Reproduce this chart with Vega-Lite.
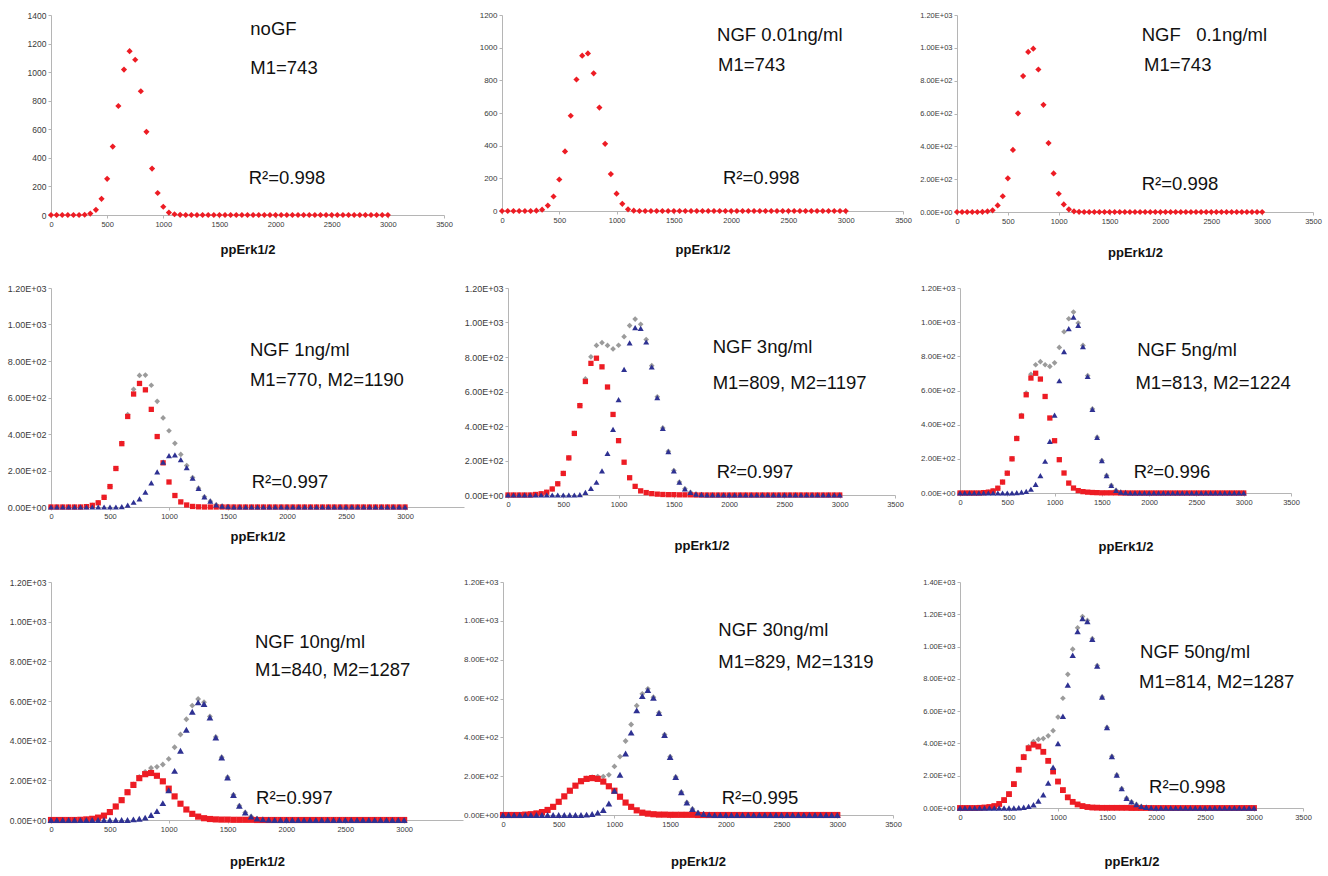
{
"$schema":"https://vega.github.io/schema/vega-lite/v6.json",
"background":"white",
"padding":{"left":5,"top":11,"right":5,"bottom":3},
"config":{"view":{"stroke":null},"concat":{"spacing":0},
"axis":{"grid":false,"labelOverlap":false,"domainColor":"#b5b5b5","tickColor":"#b5b5b5","tickSize":3,"labelPadding":2,"labelColor":"#3a3a3a","labelFont":"Liberation Sans","labelFontSize":7.5,"titleFont":"Liberation Sans","titleFontSize":13,"titleFontWeight":"bold","titleColor":"#111111","domainWidth":1,"tickWidth":1},
"axisX":{"labelFlush":false},
"text":{"font":"Liberation Sans","fontSize":18.5,"align":"left","baseline":"middle","color":"#111111"}},
"datasets":{
"noGF":[{"erk":0,"m1":0},{"erk":50,"m1":0},{"erk":100,"m1":0},{"erk":150,"m1":0},{"erk":200,"m1":0},{"erk":250,"m1":0},{"erk":300,"m1":2},{"erk":350,"m1":10},{"erk":400,"m1":36},{"erk":450,"m1":113},{"erk":500,"m1":253},{"erk":550,"m1":479},{"erk":600,"m1":763},{"erk":650,"m1":1018},{"erk":700,"m1":1147},{"erk":750,"m1":1087},{"erk":800,"m1":866},{"erk":850,"m1":582},{"erk":900,"m1":325},{"erk":950,"m1":154},{"erk":1000,"m1":58},{"erk":1050,"m1":17},{"erk":1100,"m1":5},{"erk":1150,"m1":1},{"erk":1200,"m1":0},{"erk":1250,"m1":0},{"erk":1300,"m1":0},{"erk":1350,"m1":0},{"erk":1400,"m1":0},{"erk":1450,"m1":0},{"erk":1500,"m1":0},{"erk":1550,"m1":0},{"erk":1600,"m1":0},{"erk":1650,"m1":0},{"erk":1700,"m1":0},{"erk":1750,"m1":0},{"erk":1800,"m1":0},{"erk":1850,"m1":0},{"erk":1900,"m1":0},{"erk":1950,"m1":0},{"erk":2000,"m1":0},{"erk":2050,"m1":0},{"erk":2100,"m1":0},{"erk":2150,"m1":0},{"erk":2200,"m1":0},{"erk":2250,"m1":0},{"erk":2300,"m1":0},{"erk":2350,"m1":0},{"erk":2400,"m1":0},{"erk":2450,"m1":0},{"erk":2500,"m1":0},{"erk":2550,"m1":0},{"erk":2600,"m1":0},{"erk":2650,"m1":0},{"erk":2700,"m1":0},{"erk":2750,"m1":0},{"erk":2800,"m1":0},{"erk":2850,"m1":0},{"erk":2900,"m1":0},{"erk":2950,"m1":0},{"erk":3000,"m1":0}],
"ngf001":[{"erk":0,"m1":0},{"erk":50,"m1":0},{"erk":100,"m1":0},{"erk":150,"m1":0},{"erk":200,"m1":0},{"erk":250,"m1":0},{"erk":300,"m1":2},{"erk":350,"m1":8},{"erk":400,"m1":33},{"erk":450,"m1":89},{"erk":500,"m1":193},{"erk":550,"m1":365},{"erk":600,"m1":583},{"erk":650,"m1":805},{"erk":700,"m1":951},{"erk":750,"m1":965},{"erk":800,"m1":843},{"erk":850,"m1":633},{"erk":900,"m1":411},{"erk":950,"m1":226},{"erk":1000,"m1":106},{"erk":1050,"m1":44},{"erk":1100,"m1":10},{"erk":1150,"m1":2},{"erk":1200,"m1":0},{"erk":1250,"m1":0},{"erk":1300,"m1":0},{"erk":1350,"m1":0},{"erk":1400,"m1":0},{"erk":1450,"m1":0},{"erk":1500,"m1":0},{"erk":1550,"m1":0},{"erk":1600,"m1":0},{"erk":1650,"m1":0},{"erk":1700,"m1":0},{"erk":1750,"m1":0},{"erk":1800,"m1":0},{"erk":1850,"m1":0},{"erk":1900,"m1":0},{"erk":1950,"m1":0},{"erk":2000,"m1":0},{"erk":2050,"m1":0},{"erk":2100,"m1":0},{"erk":2150,"m1":0},{"erk":2200,"m1":0},{"erk":2250,"m1":0},{"erk":2300,"m1":0},{"erk":2350,"m1":0},{"erk":2400,"m1":0},{"erk":2450,"m1":0},{"erk":2500,"m1":0},{"erk":2550,"m1":0},{"erk":2600,"m1":0},{"erk":2650,"m1":0},{"erk":2700,"m1":0},{"erk":2750,"m1":0},{"erk":2800,"m1":0},{"erk":2850,"m1":0},{"erk":2900,"m1":0},{"erk":2950,"m1":0},{"erk":3000,"m1":0}],
"ngf01":[{"erk":0,"m1":0},{"erk":50,"m1":0},{"erk":100,"m1":0},{"erk":150,"m1":0},{"erk":200,"m1":0},{"erk":250,"m1":1},{"erk":300,"m1":4},{"erk":350,"m1":10},{"erk":400,"m1":40},{"erk":450,"m1":96},{"erk":500,"m1":205},{"erk":550,"m1":378},{"erk":600,"m1":601},{"erk":650,"m1":828},{"erk":700,"m1":975},{"erk":750,"m1":995},{"erk":800,"m1":868},{"erk":850,"m1":653},{"erk":900,"m1":420},{"erk":950,"m1":235},{"erk":1000,"m1":111},{"erk":1050,"m1":46},{"erk":1100,"m1":16},{"erk":1150,"m1":4},{"erk":1200,"m1":1},{"erk":1250,"m1":0},{"erk":1300,"m1":0},{"erk":1350,"m1":0},{"erk":1400,"m1":0},{"erk":1450,"m1":0},{"erk":1500,"m1":0},{"erk":1550,"m1":0},{"erk":1600,"m1":0},{"erk":1650,"m1":0},{"erk":1700,"m1":0},{"erk":1750,"m1":0},{"erk":1800,"m1":0},{"erk":1850,"m1":0},{"erk":1900,"m1":0},{"erk":1950,"m1":0},{"erk":2000,"m1":0},{"erk":2050,"m1":0},{"erk":2100,"m1":0},{"erk":2150,"m1":0},{"erk":2200,"m1":0},{"erk":2250,"m1":0},{"erk":2300,"m1":0},{"erk":2350,"m1":0},{"erk":2400,"m1":0},{"erk":2450,"m1":0},{"erk":2500,"m1":0},{"erk":2550,"m1":0},{"erk":2600,"m1":0},{"erk":2650,"m1":0},{"erk":2700,"m1":0},{"erk":2750,"m1":0},{"erk":2800,"m1":0},{"erk":2850,"m1":0},{"erk":2900,"m1":0},{"erk":2950,"m1":0},{"erk":3000,"m1":0}],
"ngf1":[{"erk":0,"all":0,"m1":0,"m2":0},{"erk":50,"all":0,"m1":0,"m2":0},{"erk":100,"all":0,"m1":0,"m2":0},{"erk":150,"all":0,"m1":0,"m2":0},{"erk":200,"all":0,"m1":0,"m2":0},{"erk":250,"all":0,"m1":0,"m2":0},{"erk":300,"all":2,"m1":2,"m2":0},{"erk":350,"all":9,"m1":9,"m2":0},{"erk":400,"all":23,"m1":23,"m2":0},{"erk":450,"all":53,"m1":53,"m2":0},{"erk":500,"all":112,"m1":112,"m2":0},{"erk":550,"all":211,"m1":211,"m2":0},{"erk":600,"all":349,"m1":347,"m2":2},{"erk":650,"all":506,"m1":496,"m2":10},{"erk":700,"all":645,"m1":619,"m2":26},{"erk":750,"all":721,"m1":677,"m2":44},{"erk":800,"all":723,"m1":642,"m2":81},{"erk":850,"all":667,"m1":535,"m2":132},{"erk":900,"all":579,"m1":386,"m2":193},{"erk":950,"all":488,"m1":242,"m2":246},{"erk":1000,"all":418,"m1":137,"m2":281},{"erk":1050,"all":349,"m1":63,"m2":286},{"erk":1100,"all":288,"m1":28,"m2":260},{"erk":1150,"all":227,"m1":11,"m2":216},{"erk":1200,"all":161,"m1":3,"m2":158},{"erk":1250,"all":103,"m1":1,"m2":102},{"erk":1300,"all":56,"m1":0,"m2":56},{"erk":1350,"all":32,"m1":0,"m2":32},{"erk":1400,"all":12,"m1":0,"m2":12},{"erk":1450,"all":5,"m1":0,"m2":5},{"erk":1500,"all":2,"m1":0,"m2":2},{"erk":1550,"all":0,"m1":0,"m2":0},{"erk":1600,"all":0,"m1":0,"m2":0},{"erk":1650,"all":0,"m1":0,"m2":0},{"erk":1700,"all":0,"m1":0,"m2":0},{"erk":1750,"all":0,"m1":0,"m2":0},{"erk":1800,"all":0,"m1":0,"m2":0},{"erk":1850,"all":0,"m1":0,"m2":0},{"erk":1900,"all":0,"m1":0,"m2":0},{"erk":1950,"all":0,"m1":0,"m2":0},{"erk":2000,"all":0,"m1":0,"m2":0},{"erk":2050,"all":0,"m1":0,"m2":0},{"erk":2100,"all":0,"m1":0,"m2":0},{"erk":2150,"all":0,"m1":0,"m2":0},{"erk":2200,"all":0,"m1":0,"m2":0},{"erk":2250,"all":0,"m1":0,"m2":0},{"erk":2300,"all":0,"m1":0,"m2":0},{"erk":2350,"all":0,"m1":0,"m2":0},{"erk":2400,"all":0,"m1":0,"m2":0},{"erk":2450,"all":0,"m1":0,"m2":0},{"erk":2500,"all":0,"m1":0,"m2":0},{"erk":2550,"all":0,"m1":0,"m2":0},{"erk":2600,"all":0,"m1":0,"m2":0},{"erk":2650,"all":0,"m1":0,"m2":0},{"erk":2700,"all":0,"m1":0,"m2":0},{"erk":2750,"all":0,"m1":0,"m2":0},{"erk":2800,"all":0,"m1":0,"m2":0},{"erk":2850,"all":0,"m1":0,"m2":0},{"erk":2900,"all":0,"m1":0,"m2":0},{"erk":2950,"all":0,"m1":0,"m2":0},{"erk":3000,"all":0,"m1":0,"m2":0}],
"ngf3":[{"erk":0,"all":0,"m1":0,"m2":0},{"erk":50,"all":0,"m1":0,"m2":0},{"erk":100,"all":0,"m1":0,"m2":0},{"erk":150,"all":0,"m1":0,"m2":0},{"erk":200,"all":0,"m1":0,"m2":0},{"erk":250,"all":3,"m1":3,"m2":0},{"erk":300,"all":7,"m1":7,"m2":0},{"erk":350,"all":16,"m1":16,"m2":0},{"erk":400,"all":35,"m1":35,"m2":0},{"erk":450,"all":65,"m1":65,"m2":0},{"erk":500,"all":125,"m1":125,"m2":0},{"erk":550,"all":215,"m1":215,"m2":0},{"erk":600,"all":357,"m1":357,"m2":0},{"erk":650,"all":520,"m1":518,"m2":2},{"erk":700,"all":673,"m1":658,"m2":15},{"erk":750,"all":801,"m1":763,"m2":38},{"erk":800,"all":867,"m1":793,"m2":74},{"erk":850,"all":883,"m1":743,"m2":140},{"erk":900,"all":867,"m1":626,"m2":241},{"erk":950,"all":847,"m1":467,"m2":380},{"erk":1000,"all":868,"m1":315,"m2":553},{"erk":1050,"all":918,"m1":190,"m2":728},{"erk":1100,"all":982,"m1":100,"m2":882},{"erk":1150,"all":1020,"m1":50,"m2":970},{"erk":1200,"all":990,"m1":24,"m2":966},{"erk":1250,"all":901,"m1":14,"m2":887},{"erk":1300,"all":750,"m1":8,"m2":742},{"erk":1350,"all":569,"m1":5,"m2":564},{"erk":1400,"all":389,"m1":3,"m2":386},{"erk":1450,"all":253,"m1":2,"m2":251},{"erk":1500,"all":142,"m1":2,"m2":140},{"erk":1550,"all":75,"m1":1,"m2":74},{"erk":1600,"all":36,"m1":1,"m2":35},{"erk":1650,"all":16,"m1":1,"m2":15},{"erk":1700,"all":5,"m1":0,"m2":5},{"erk":1750,"all":2,"m1":0,"m2":2},{"erk":1800,"all":0,"m1":0,"m2":0},{"erk":1850,"all":0,"m1":0,"m2":0},{"erk":1900,"all":0,"m1":0,"m2":0},{"erk":1950,"all":0,"m1":0,"m2":0},{"erk":2000,"all":0,"m1":0,"m2":0},{"erk":2050,"all":0,"m1":0,"m2":0},{"erk":2100,"all":0,"m1":0,"m2":0},{"erk":2150,"all":0,"m1":0,"m2":0},{"erk":2200,"all":0,"m1":0,"m2":0},{"erk":2250,"all":0,"m1":0,"m2":0},{"erk":2300,"all":0,"m1":0,"m2":0},{"erk":2350,"all":0,"m1":0,"m2":0},{"erk":2400,"all":0,"m1":0,"m2":0},{"erk":2450,"all":0,"m1":0,"m2":0},{"erk":2500,"all":0,"m1":0,"m2":0},{"erk":2550,"all":0,"m1":0,"m2":0},{"erk":2600,"all":0,"m1":0,"m2":0},{"erk":2650,"all":0,"m1":0,"m2":0},{"erk":2700,"all":0,"m1":0,"m2":0},{"erk":2750,"all":0,"m1":0,"m2":0},{"erk":2800,"all":0,"m1":0,"m2":0},{"erk":2850,"all":0,"m1":0,"m2":0},{"erk":2900,"all":0,"m1":0,"m2":0},{"erk":2950,"all":0,"m1":0,"m2":0},{"erk":3000,"all":0,"m1":0,"m2":0}],
"ngf5":[{"erk":0,"all":0,"m1":0,"m2":0},{"erk":50,"all":0,"m1":0,"m2":0},{"erk":100,"all":0,"m1":0,"m2":0},{"erk":150,"all":0,"m1":0,"m2":0},{"erk":200,"all":0,"m1":0,"m2":0},{"erk":250,"all":2,"m1":2,"m2":0},{"erk":300,"all":5,"m1":5,"m2":0},{"erk":350,"all":12,"m1":12,"m2":0},{"erk":400,"all":28,"m1":28,"m2":0},{"erk":450,"all":64,"m1":64,"m2":0},{"erk":500,"all":116,"m1":116,"m2":0},{"erk":550,"all":200,"m1":200,"m2":0},{"erk":600,"all":321,"m1":319,"m2":2},{"erk":650,"all":455,"m1":450,"m2":5},{"erk":700,"all":585,"m1":575,"m2":10},{"erk":750,"all":695,"m1":673,"m2":22},{"erk":800,"all":751,"m1":701,"m2":50},{"erk":850,"all":769,"m1":667,"m2":102},{"erk":900,"all":751,"m1":565,"m2":186},{"erk":950,"all":741,"m1":439,"m2":302},{"erk":1000,"all":762,"m1":306,"m2":456},{"erk":1050,"all":852,"m1":195,"m2":657},{"erk":1100,"all":944,"m1":117,"m2":827},{"erk":1150,"all":1020,"m1":58,"m2":962},{"erk":1200,"all":1059,"m1":29,"m2":1030},{"erk":1250,"all":995,"m1":14,"m2":981},{"erk":1300,"all":864,"m1":8,"m2":856},{"erk":1350,"all":687,"m1":5,"m2":682},{"erk":1400,"all":492,"m1":3,"m2":489},{"erk":1450,"all":327,"m1":2,"m2":325},{"erk":1500,"all":190,"m1":1,"m2":189},{"erk":1550,"all":103,"m1":1,"m2":102},{"erk":1600,"all":45,"m1":1,"m2":44},{"erk":1650,"all":16,"m1":1,"m2":15},{"erk":1700,"all":5,"m1":0,"m2":5},{"erk":1750,"all":2,"m1":0,"m2":2},{"erk":1800,"all":0,"m1":0,"m2":0},{"erk":1850,"all":0,"m1":0,"m2":0},{"erk":1900,"all":0,"m1":0,"m2":0},{"erk":1950,"all":0,"m1":0,"m2":0},{"erk":2000,"all":0,"m1":0,"m2":0},{"erk":2050,"all":0,"m1":0,"m2":0},{"erk":2100,"all":0,"m1":0,"m2":0},{"erk":2150,"all":0,"m1":0,"m2":0},{"erk":2200,"all":0,"m1":0,"m2":0},{"erk":2250,"all":0,"m1":0,"m2":0},{"erk":2300,"all":0,"m1":0,"m2":0},{"erk":2350,"all":0,"m1":0,"m2":0},{"erk":2400,"all":0,"m1":0,"m2":0},{"erk":2450,"all":0,"m1":0,"m2":0},{"erk":2500,"all":0,"m1":0,"m2":0},{"erk":2550,"all":0,"m1":0,"m2":0},{"erk":2600,"all":0,"m1":0,"m2":0},{"erk":2650,"all":0,"m1":0,"m2":0},{"erk":2700,"all":0,"m1":0,"m2":0},{"erk":2750,"all":0,"m1":0,"m2":0},{"erk":2800,"all":0,"m1":0,"m2":0},{"erk":2850,"all":0,"m1":0,"m2":0},{"erk":2900,"all":0,"m1":0,"m2":0},{"erk":2950,"all":0,"m1":0,"m2":0},{"erk":3000,"all":0,"m1":0,"m2":0}],
"ngf10":[{"erk":0,"all":0,"m1":0,"m2":0},{"erk":50,"all":0,"m1":0,"m2":0},{"erk":100,"all":0,"m1":0,"m2":0},{"erk":150,"all":0,"m1":0,"m2":0},{"erk":200,"all":0,"m1":0,"m2":0},{"erk":250,"all":1,"m1":1,"m2":0},{"erk":300,"all":3,"m1":3,"m2":0},{"erk":350,"all":6,"m1":6,"m2":0},{"erk":400,"all":12,"m1":12,"m2":0},{"erk":450,"all":22,"m1":22,"m2":0},{"erk":500,"all":40,"m1":40,"m2":0},{"erk":550,"all":68,"m1":68,"m2":0},{"erk":600,"all":100,"m1":100,"m2":0},{"erk":650,"all":140,"m1":140,"m2":0},{"erk":700,"all":180,"m1":177,"m2":3},{"erk":750,"all":217,"m1":211,"m2":6},{"erk":800,"all":243,"m1":231,"m2":12},{"erk":850,"all":262,"m1":237,"m2":25},{"erk":900,"all":268,"m1":223,"m2":45},{"erk":950,"all":280,"m1":195,"m2":85},{"erk":1000,"all":308,"m1":158,"m2":150},{"erk":1050,"all":367,"m1":119,"m2":248},{"erk":1100,"all":431,"m1":82,"m2":349},{"erk":1150,"all":508,"m1":53,"m2":455},{"erk":1200,"all":577,"m1":31,"m2":546},{"erk":1250,"all":610,"m1":17,"m2":593},{"erk":1300,"all":594,"m1":9,"m2":585},{"erk":1350,"all":522,"m1":5,"m2":517},{"erk":1400,"all":419,"m1":3,"m2":416},{"erk":1450,"all":317,"m1":2,"m2":315},{"erk":1500,"all":216,"m1":2,"m2":214},{"erk":1550,"all":127,"m1":1,"m2":126},{"erk":1600,"all":72,"m1":1,"m2":71},{"erk":1650,"all":38,"m1":1,"m2":37},{"erk":1700,"all":18,"m1":1,"m2":17},{"erk":1750,"all":7,"m1":0,"m2":7},{"erk":1800,"all":3,"m1":0,"m2":3},{"erk":1850,"all":1,"m1":0,"m2":1},{"erk":1900,"all":0,"m1":0,"m2":0},{"erk":1950,"all":0,"m1":0,"m2":0},{"erk":2000,"all":0,"m1":0,"m2":0},{"erk":2050,"all":0,"m1":0,"m2":0},{"erk":2100,"all":0,"m1":0,"m2":0},{"erk":2150,"all":0,"m1":0,"m2":0},{"erk":2200,"all":0,"m1":0,"m2":0},{"erk":2250,"all":0,"m1":0,"m2":0},{"erk":2300,"all":0,"m1":0,"m2":0},{"erk":2350,"all":0,"m1":0,"m2":0},{"erk":2400,"all":0,"m1":0,"m2":0},{"erk":2450,"all":0,"m1":0,"m2":0},{"erk":2500,"all":0,"m1":0,"m2":0},{"erk":2550,"all":0,"m1":0,"m2":0},{"erk":2600,"all":0,"m1":0,"m2":0},{"erk":2650,"all":0,"m1":0,"m2":0},{"erk":2700,"all":0,"m1":0,"m2":0},{"erk":2750,"all":0,"m1":0,"m2":0},{"erk":2800,"all":0,"m1":0,"m2":0},{"erk":2850,"all":0,"m1":0,"m2":0},{"erk":2900,"all":0,"m1":0,"m2":0},{"erk":2950,"all":0,"m1":0,"m2":0},{"erk":3000,"all":0,"m1":0,"m2":0}],
"ngf30":[{"erk":0,"all":0,"m1":0,"m2":0},{"erk":50,"all":0,"m1":0,"m2":0},{"erk":100,"all":0,"m1":0,"m2":0},{"erk":150,"all":0,"m1":0,"m2":0},{"erk":200,"all":2,"m1":2,"m2":0},{"erk":250,"all":4,"m1":4,"m2":0},{"erk":300,"all":8,"m1":8,"m2":0},{"erk":350,"all":15,"m1":15,"m2":0},{"erk":400,"all":26,"m1":26,"m2":0},{"erk":450,"all":42,"m1":42,"m2":0},{"erk":500,"all":68,"m1":68,"m2":0},{"erk":550,"all":96,"m1":96,"m2":0},{"erk":600,"all":125,"m1":125,"m2":0},{"erk":650,"all":151,"m1":151,"m2":0},{"erk":700,"all":174,"m1":174,"m2":0},{"erk":750,"all":188,"m1":186,"m2":2},{"erk":800,"all":195,"m1":190,"m2":5},{"erk":850,"all":198,"m1":186,"m2":12},{"erk":900,"all":198,"m1":172,"m2":26},{"erk":950,"all":207,"m1":148,"m2":59},{"erk":1000,"all":250,"m1":125,"m2":125},{"erk":1050,"all":301,"m1":94,"m2":207},{"erk":1100,"all":381,"m1":64,"m2":317},{"erk":1150,"all":466,"m1":42,"m2":424},{"erk":1200,"all":563,"m1":24,"m2":539},{"erk":1250,"all":624,"m1":12,"m2":612},{"erk":1300,"all":650,"m1":7,"m2":643},{"erk":1350,"all":607,"m1":4,"m2":603},{"erk":1400,"all":527,"m1":2,"m2":525},{"erk":1450,"all":414,"m1":2,"m2":412},{"erk":1500,"all":300,"m1":1,"m2":299},{"erk":1550,"all":196,"m1":1,"m2":195},{"erk":1600,"all":118,"m1":1,"m2":117},{"erk":1650,"all":65,"m1":1,"m2":64},{"erk":1700,"all":31,"m1":1,"m2":30},{"erk":1750,"all":12,"m1":0,"m2":12},{"erk":1800,"all":5,"m1":0,"m2":5},{"erk":1850,"all":2,"m1":0,"m2":2},{"erk":1900,"all":0,"m1":0,"m2":0},{"erk":1950,"all":0,"m1":0,"m2":0},{"erk":2000,"all":0,"m1":0,"m2":0},{"erk":2050,"all":0,"m1":0,"m2":0},{"erk":2100,"all":0,"m1":0,"m2":0},{"erk":2150,"all":0,"m1":0,"m2":0},{"erk":2200,"all":0,"m1":0,"m2":0},{"erk":2250,"all":0,"m1":0,"m2":0},{"erk":2300,"all":0,"m1":0,"m2":0},{"erk":2350,"all":0,"m1":0,"m2":0},{"erk":2400,"all":0,"m1":0,"m2":0},{"erk":2450,"all":0,"m1":0,"m2":0},{"erk":2500,"all":0,"m1":0,"m2":0},{"erk":2550,"all":0,"m1":0,"m2":0},{"erk":2600,"all":0,"m1":0,"m2":0},{"erk":2650,"all":0,"m1":0,"m2":0},{"erk":2700,"all":0,"m1":0,"m2":0},{"erk":2750,"all":0,"m1":0,"m2":0},{"erk":2800,"all":0,"m1":0,"m2":0},{"erk":2850,"all":0,"m1":0,"m2":0},{"erk":2900,"all":0,"m1":0,"m2":0},{"erk":2950,"all":0,"m1":0,"m2":0},{"erk":3000,"all":0,"m1":0,"m2":0}],
"ngf50":[{"erk":0,"all":0,"m1":0,"m2":0},{"erk":50,"all":0,"m1":0,"m2":0},{"erk":100,"all":0,"m1":0,"m2":0},{"erk":150,"all":0,"m1":0,"m2":0},{"erk":200,"all":1,"m1":1,"m2":0},{"erk":250,"all":3,"m1":3,"m2":0},{"erk":300,"all":6,"m1":6,"m2":0},{"erk":350,"all":12,"m1":12,"m2":0},{"erk":400,"all":25,"m1":25,"m2":0},{"erk":450,"all":49,"m1":49,"m2":0},{"erk":500,"all":86,"m1":86,"m2":0},{"erk":550,"all":148,"m1":148,"m2":0},{"erk":600,"all":239,"m1":237,"m2":2},{"erk":650,"all":320,"m1":315,"m2":5},{"erk":700,"all":380,"m1":370,"m2":10},{"erk":750,"all":412,"m1":392,"m2":20},{"erk":800,"all":425,"m1":381,"m2":44},{"erk":850,"all":430,"m1":348,"m2":82},{"erk":900,"all":447,"m1":292,"m2":155},{"erk":950,"all":479,"m1":226,"m2":253},{"erk":1000,"all":563,"m1":164,"m2":399},{"erk":1050,"all":680,"m1":111,"m2":569},{"erk":1100,"all":828,"m1":66,"m2":762},{"erk":1150,"all":984,"m1":38,"m2":946},{"erk":1200,"all":1116,"m1":22,"m2":1094},{"erk":1250,"all":1186,"m1":12,"m2":1174},{"erk":1300,"all":1162,"m1":6,"m2":1156},{"erk":1350,"all":1049,"m1":3,"m2":1046},{"erk":1400,"all":882,"m1":2,"m2":880},{"erk":1450,"all":688,"m1":1,"m2":687},{"erk":1500,"all":499,"m1":1,"m2":498},{"erk":1550,"all":320,"m1":1,"m2":319},{"erk":1600,"all":205,"m1":1,"m2":204},{"erk":1650,"all":121,"m1":1,"m2":120},{"erk":1700,"all":61,"m1":1,"m2":60},{"erk":1750,"all":38,"m1":0,"m2":38},{"erk":1800,"all":22,"m1":0,"m2":22},{"erk":1850,"all":10,"m1":0,"m2":10},{"erk":1900,"all":4,"m1":0,"m2":4},{"erk":1950,"all":2,"m1":0,"m2":2},{"erk":2000,"all":0,"m1":0,"m2":0},{"erk":2050,"all":0,"m1":0,"m2":0},{"erk":2100,"all":0,"m1":0,"m2":0},{"erk":2150,"all":0,"m1":0,"m2":0},{"erk":2200,"all":0,"m1":0,"m2":0},{"erk":2250,"all":0,"m1":0,"m2":0},{"erk":2300,"all":0,"m1":0,"m2":0},{"erk":2350,"all":0,"m1":0,"m2":0},{"erk":2400,"all":0,"m1":0,"m2":0},{"erk":2450,"all":0,"m1":0,"m2":0},{"erk":2500,"all":0,"m1":0,"m2":0},{"erk":2550,"all":0,"m1":0,"m2":0},{"erk":2600,"all":0,"m1":0,"m2":0},{"erk":2650,"all":0,"m1":0,"m2":0},{"erk":2700,"all":0,"m1":0,"m2":0},{"erk":2750,"all":0,"m1":0,"m2":0},{"erk":2800,"all":0,"m1":0,"m2":0},{"erk":2850,"all":0,"m1":0,"m2":0},{"erk":2900,"all":0,"m1":0,"m2":0},{"erk":2950,"all":0,"m1":0,"m2":0},{"erk":3000,"all":0,"m1":0,"m2":0}]
},
"spacing":24,
"vconcat":[
{"spacing":0,"hconcat":[
{"width":393,"height":200,"data":{"name":"noGF"},"layer":[
{"mark":{"type":"point","shape":"diamond","size":38,"filled":true,"opacity":1,"color":"#ed1c24"},"encoding":{"x":{"field":"erk","type":"quantitative","scale":{"domain":[0,3500],"nice":false},"axis":{"values":[0,500,1000,1500,2000,2500,3000,3500],"tickCount":30,"format":"d","labelOverlap":false,"title":"ppErk1/2","titlePadding":16}},"y":{"field":"m1","type":"quantitative","scale":{"domain":[0,1400],"nice":false},"axis":{"values":[0,200,400,600,800,1000,1200,1400],"tickCount":30,"format":"d","labelOverlap":false,"title":null,"minExtent":44,"labelFontSize":8.5}}}},
{"data":{"values":[{}]},"mark":{"type":"text","text":"noGF"},"encoding":{"x":{"datum":1775,"type":"quantitative","scale":{"domain":[0,3500],"nice":false}},"y":{"datum":1300,"type":"quantitative","scale":{"domain":[0,1400],"nice":false}}}},
{"data":{"values":[{}]},"mark":{"type":"text","text":"M1=743"},"encoding":{"x":{"datum":1775,"type":"quantitative","scale":{"domain":[0,3500],"nice":false}},"y":{"datum":1032,"type":"quantitative","scale":{"domain":[0,1400],"nice":false}}}},
{"data":{"values":[{}]},"mark":{"type":"text","text":"R²=0.998"},"encoding":{"x":{"datum":1761,"type":"quantitative","scale":{"domain":[0,3500],"nice":false}},"y":{"datum":261,"type":"quantitative","scale":{"domain":[0,1400],"nice":false}}}}
]},
{"width":401,"height":196,"data":{"name":"ngf001"},"layer":[
{"mark":{"type":"point","shape":"diamond","size":38,"filled":true,"opacity":1,"color":"#ed1c24"},"encoding":{"x":{"field":"erk","type":"quantitative","scale":{"domain":[0,3500],"nice":false},"axis":{"values":[0,500,1000,1500,2000,2500,3000,3500],"tickCount":30,"format":"d","labelOverlap":false,"title":"ppErk1/2","titlePadding":20}},"y":{"field":"m1","type":"quantitative","scale":{"domain":[0,1200],"nice":false},"axis":{"values":[0,200,400,600,800,1000,1200],"tickCount":30,"format":"d","labelOverlap":false,"title":null,"minExtent":49,"labelFontSize":8}}}},
{"data":{"values":[{}]},"mark":{"type":"text","text":"NGF 0.01ng/ml"},"encoding":{"x":{"datum":1877,"type":"quantitative","scale":{"domain":[0,3500],"nice":false}},"y":{"datum":1078,"type":"quantitative","scale":{"domain":[0,1200],"nice":false}}}},
{"data":{"values":[{}]},"mark":{"type":"text","text":"M1=743"},"encoding":{"x":{"datum":1885,"type":"quantitative","scale":{"domain":[0,3500],"nice":false}},"y":{"datum":894,"type":"quantitative","scale":{"domain":[0,1200],"nice":false}}}},
{"data":{"values":[{}]},"mark":{"type":"text","text":"R²=0.998"},"encoding":{"x":{"datum":1929,"type":"quantitative","scale":{"domain":[0,3500],"nice":false}},"y":{"datum":204,"type":"quantitative","scale":{"domain":[0,1200],"nice":false}}}}
]},
{"width":356,"height":197,"data":{"name":"ngf01"},"layer":[
{"mark":{"type":"point","shape":"diamond","size":38,"filled":true,"opacity":1,"color":"#ed1c24"},"encoding":{"x":{"field":"erk","type":"quantitative","scale":{"domain":[0,3500],"nice":false},"axis":{"values":[0,500,1000,1500,2000,2500,3000,3500],"tickCount":30,"format":"d","labelOverlap":false,"title":"ppErk1/2","titlePadding":22}},"y":{"field":"m1","type":"quantitative","scale":{"domain":[0,1200],"nice":false},"axis":{"values":[0,200,400,600,800,1000,1200],"tickCount":30,"labelOverlap":false,"title":null,"minExtent":45,"labelFontSize":7.5,"labelExpr":"replace(format(datum.value, '.2e'), 'e+', 'E+0')"}}}},
{"data":{"values":[{}]},"mark":{"type":"text","text":"NGF\u00a0\u00a0\u00a00.1ng/ml"},"encoding":{"x":{"datum":1816,"type":"quantitative","scale":{"domain":[0,3500],"nice":false}},"y":{"datum":1078,"type":"quantitative","scale":{"domain":[0,1200],"nice":false}}}},
{"data":{"values":[{}]},"mark":{"type":"text","text":"M1=743"},"encoding":{"x":{"datum":1839,"type":"quantitative","scale":{"domain":[0,3500],"nice":false}},"y":{"datum":895,"type":"quantitative","scale":{"domain":[0,1200],"nice":false}}}},
{"data":{"values":[{}]},"mark":{"type":"text","text":"R²=0.998"},"encoding":{"x":{"datum":1816,"type":"quantitative","scale":{"domain":[0,3500],"nice":false}},"y":{"datum":171,"type":"quantitative","scale":{"domain":[0,1200],"nice":false}}}}
]}
]},
{"spacing":0,"hconcat":[
{"width":413,"height":219,"data":{"name":"ngf1"},"layer":[
{"mark":{"type":"point","shape":"diamond","size":32,"filled":true,"opacity":1,"color":"#9b9b9b"},"encoding":{"x":{"field":"erk","type":"quantitative","scale":{"domain":[0,3500],"nice":false},"axis":{"values":[0,500,1000,1500,2000,2500,3000],"tickCount":30,"format":"d","labelOverlap":false,"title":"ppErk1/2","titlePadding":11}},"y":{"field":"all","type":"quantitative","scale":{"domain":[0,1200],"nice":false},"axis":{"values":[0,200,400,600,800,1000,1200],"tickCount":30,"labelOverlap":false,"title":null,"minExtent":46,"labelFontSize":9,"labelExpr":"replace(format(datum.value, '.2e'), 'e+', 'E+0')"}}}},
{"mark":{"type":"point","shape":"square","size":28,"filled":true,"opacity":1,"color":"#ed1c24"},"encoding":{"x":{"field":"erk","type":"quantitative","scale":{"domain":[0,3500],"nice":false}},"y":{"field":"m1","type":"quantitative","scale":{"domain":[0,1200],"nice":false}}}},
{"mark":{"type":"point","shape":"triangle-up","size":36,"filled":true,"opacity":1,"color":"#2e3192"},"encoding":{"x":{"field":"erk","type":"quantitative","scale":{"domain":[0,3500],"nice":false}},"y":{"field":"m2","type":"quantitative","scale":{"domain":[0,1200],"nice":false}}}},
{"data":{"values":[{}]},"mark":{"type":"text","text":"NGF 1ng/ml"},"encoding":{"x":{"datum":1686,"type":"quantitative","scale":{"domain":[0,3500],"nice":false}},"y":{"datum":860,"type":"quantitative","scale":{"domain":[0,1200],"nice":false}}}},
{"data":{"values":[{}]},"mark":{"type":"text","text":"M1=770, M2=1190"},"encoding":{"x":{"datum":1686,"type":"quantitative","scale":{"domain":[0,3500],"nice":false}},"y":{"datum":696,"type":"quantitative","scale":{"domain":[0,1200],"nice":false}}}},
{"data":{"values":[{}]},"mark":{"type":"text","text":"R²=0.997"},"encoding":{"x":{"datum":1701,"type":"quantitative","scale":{"domain":[0,3500],"nice":false}},"y":{"datum":139,"type":"quantitative","scale":{"domain":[0,1200],"nice":false}}}}
]},
{"width":387,"height":207,"data":{"name":"ngf3"},"layer":[
{"mark":{"type":"point","shape":"diamond","size":32,"filled":true,"opacity":1,"color":"#9b9b9b"},"encoding":{"x":{"field":"erk","type":"quantitative","scale":{"domain":[0,3500],"nice":false},"axis":{"values":[0,500,1000,1500,2000,2500,3000,3500],"tickCount":30,"format":"d","labelOverlap":false,"title":"ppErk1/2","titlePadding":32}},"y":{"field":"all","type":"quantitative","scale":{"domain":[0,1200],"nice":false},"axis":{"values":[0,200,400,600,800,1000,1200],"tickCount":30,"labelOverlap":false,"title":null,"minExtent":44,"labelFontSize":9,"labelExpr":"replace(format(datum.value, '.2e'), 'e+', 'E+0')"}}}},
{"mark":{"type":"point","shape":"square","size":28,"filled":true,"opacity":1,"color":"#ed1c24"},"encoding":{"x":{"field":"erk","type":"quantitative","scale":{"domain":[0,3500],"nice":false}},"y":{"field":"m1","type":"quantitative","scale":{"domain":[0,1200],"nice":false}}}},
{"mark":{"type":"point","shape":"triangle-up","size":36,"filled":true,"opacity":1,"color":"#2e3192"},"encoding":{"x":{"field":"erk","type":"quantitative","scale":{"domain":[0,3500],"nice":false}},"y":{"field":"m2","type":"quantitative","scale":{"domain":[0,1200],"nice":false}}}},
{"data":{"values":[{}]},"mark":{"type":"text","text":"NGF 3ng/ml"},"encoding":{"x":{"datum":1851,"type":"quantitative","scale":{"domain":[0,3500],"nice":false}},"y":{"datum":856,"type":"quantitative","scale":{"domain":[0,1200],"nice":false}}}},
{"data":{"values":[{}]},"mark":{"type":"text","text":"M1=809, M2=1197"},"encoding":{"x":{"datum":1851,"type":"quantitative","scale":{"domain":[0,3500],"nice":false}},"y":{"datum":651,"type":"quantitative","scale":{"domain":[0,1200],"nice":false}}}},
{"data":{"values":[{}]},"mark":{"type":"text","text":"R²=0.997"},"encoding":{"x":{"datum":1887,"type":"quantitative","scale":{"domain":[0,3500],"nice":false}},"y":{"datum":135,"type":"quantitative","scale":{"domain":[0,1200],"nice":false}}}}
]},
{"width":331,"height":205,"data":{"name":"ngf5"},"layer":[
{"mark":{"type":"point","shape":"diamond","size":32,"filled":true,"opacity":1,"color":"#9b9b9b"},"encoding":{"x":{"field":"erk","type":"quantitative","scale":{"domain":[0,3500],"nice":false},"axis":{"values":[0,500,1000,1500,2000,2500,3000,3500],"tickCount":30,"format":"d","labelOverlap":false,"title":"ppErk1/2","titlePadding":35}},"y":{"field":"all","type":"quantitative","scale":{"domain":[0,1200],"nice":false},"axis":{"values":[0,200,400,600,800,1000,1200],"tickCount":30,"labelOverlap":false,"title":null,"minExtent":56,"labelFontSize":8,"labelExpr":"replace(format(datum.value, '.2e'), 'e+', 'E+0')"}}}},
{"mark":{"type":"point","shape":"square","size":28,"filled":true,"opacity":1,"color":"#ed1c24"},"encoding":{"x":{"field":"erk","type":"quantitative","scale":{"domain":[0,3500],"nice":false}},"y":{"field":"m1","type":"quantitative","scale":{"domain":[0,1200],"nice":false}}}},
{"mark":{"type":"point","shape":"triangle-up","size":36,"filled":true,"opacity":1,"color":"#2e3192"},"encoding":{"x":{"field":"erk","type":"quantitative","scale":{"domain":[0,3500],"nice":false}},"y":{"field":"m2","type":"quantitative","scale":{"domain":[0,1200],"nice":false}}}},
{"data":{"values":[{}]},"mark":{"type":"text","text":"NGF 5ng/ml"},"encoding":{"x":{"datum":1873,"type":"quantitative","scale":{"domain":[0,3500],"nice":false}},"y":{"datum":837,"type":"quantitative","scale":{"domain":[0,1200],"nice":false}}}},
{"data":{"values":[{}]},"mark":{"type":"text","text":"M1=813, M2=1224"},"encoding":{"x":{"datum":1855,"type":"quantitative","scale":{"domain":[0,3500],"nice":false}},"y":{"datum":642,"type":"quantitative","scale":{"domain":[0,1200],"nice":false}}}},
{"data":{"values":[{}]},"mark":{"type":"text","text":"R²=0.996"},"encoding":{"x":{"datum":1837,"type":"quantitative","scale":{"domain":[0,3500],"nice":false}},"y":{"datum":125,"type":"quantitative","scale":{"domain":[0,1200],"nice":false}}}}
]}
]},
{"spacing":0,"hconcat":[
{"width":412,"height":238,"data":{"name":"ngf10"},"layer":[
{"mark":{"type":"point","shape":"diamond","size":34,"filled":true,"opacity":1,"color":"#9b9b9b"},"encoding":{"x":{"field":"erk","type":"quantitative","scale":{"domain":[0,3500],"nice":false},"axis":{"values":[0,500,1000,1500,2000,2500,3000],"tickCount":30,"format":"d","labelOverlap":false,"title":"ppErk1/2","titlePadding":23}},"y":{"field":"all","type":"quantitative","scale":{"domain":[0,1200],"nice":false},"axis":{"values":[0,200,400,600,800,1000,1200],"tickCount":30,"labelOverlap":false,"title":null,"minExtent":46,"labelFontSize":8.5,"labelExpr":"replace(format(datum.value, '.2e'), 'e+', 'E+0')"}}}},
{"mark":{"type":"point","shape":"square","size":38,"filled":true,"opacity":1,"color":"#ed1c24"},"encoding":{"x":{"field":"erk","type":"quantitative","scale":{"domain":[0,3500],"nice":false}},"y":{"field":"m1","type":"quantitative","scale":{"domain":[0,1200],"nice":false}}}},
{"mark":{"type":"point","shape":"triangle-up","size":46,"filled":true,"opacity":1,"color":"#2e3192"},"encoding":{"x":{"field":"erk","type":"quantitative","scale":{"domain":[0,3500],"nice":false}},"y":{"field":"m2","type":"quantitative","scale":{"domain":[0,1200],"nice":false}}}},
{"data":{"values":[{}]},"mark":{"type":"text","text":"NGF 10ng/ml"},"encoding":{"x":{"datum":1733,"type":"quantitative","scale":{"domain":[0,3500],"nice":false}},"y":{"datum":899,"type":"quantitative","scale":{"domain":[0,1200],"nice":false}}}},
{"data":{"values":[{}]},"mark":{"type":"text","text":"M1=840, M2=1287"},"encoding":{"x":{"datum":1733,"type":"quantitative","scale":{"domain":[0,3500],"nice":false}},"y":{"datum":756,"type":"quantitative","scale":{"domain":[0,1200],"nice":false}}}},
{"data":{"values":[{}]},"mark":{"type":"text","text":"R²=0.997"},"encoding":{"x":{"datum":1742,"type":"quantitative","scale":{"domain":[0,3500],"nice":false}},"y":{"datum":109,"type":"quantitative","scale":{"domain":[0,1200],"nice":false}}}}
]},
{"width":390,"height":233,"data":{"name":"ngf30"},"layer":[
{"mark":{"type":"point","shape":"diamond","size":34,"filled":true,"opacity":1,"color":"#9b9b9b"},"encoding":{"x":{"field":"erk","type":"quantitative","scale":{"domain":[0,3500],"nice":false},"axis":{"values":[0,500,1000,1500,2000,2500,3000,3500],"tickCount":30,"format":"d","labelOverlap":false,"title":"ppErk1/2","titlePadding":28}},"y":{"field":"all","type":"quantitative","scale":{"domain":[0,1200],"nice":false},"axis":{"values":[0,200,400,600,800,1000,1200],"tickCount":30,"labelOverlap":false,"title":null,"minExtent":40,"labelFontSize":8,"labelExpr":"replace(format(datum.value, '.2e'), 'e+', 'E+0')"}}}},
{"mark":{"type":"point","shape":"square","size":38,"filled":true,"opacity":1,"color":"#ed1c24"},"encoding":{"x":{"field":"erk","type":"quantitative","scale":{"domain":[0,3500],"nice":false}},"y":{"field":"m1","type":"quantitative","scale":{"domain":[0,1200],"nice":false}}}},
{"mark":{"type":"point","shape":"triangle-up","size":46,"filled":true,"opacity":1,"color":"#2e3192"},"encoding":{"x":{"field":"erk","type":"quantitative","scale":{"domain":[0,3500],"nice":false}},"y":{"field":"m2","type":"quantitative","scale":{"domain":[0,1200],"nice":false}}}},
{"data":{"values":[{}]},"mark":{"type":"text","text":"NGF 30ng/ml"},"encoding":{"x":{"datum":1932,"type":"quantitative","scale":{"domain":[0,3500],"nice":false}},"y":{"datum":953,"type":"quantitative","scale":{"domain":[0,1200],"nice":false}}}},
{"data":{"values":[{}]},"mark":{"type":"text","text":"M1=829, M2=1319"},"encoding":{"x":{"datum":1932,"type":"quantitative","scale":{"domain":[0,3500],"nice":false}},"y":{"datum":790,"type":"quantitative","scale":{"domain":[0,1200],"nice":false}}}},
{"data":{"values":[{}]},"mark":{"type":"text","text":"R²=0.995"},"encoding":{"x":{"datum":1963,"type":"quantitative","scale":{"domain":[0,3500],"nice":false}},"y":{"datum":86,"type":"quantitative","scale":{"domain":[0,1200],"nice":false}}}}
]},
{"width":343,"height":226,"data":{"name":"ngf50"},"layer":[
{"mark":{"type":"point","shape":"diamond","size":32,"filled":true,"opacity":1,"color":"#9b9b9b"},"encoding":{"x":{"field":"erk","type":"quantitative","scale":{"domain":[0,3500],"nice":false},"axis":{"values":[0,500,1000,1500,2000,2500,3000,3500],"tickCount":30,"format":"d","labelOverlap":false,"title":"ppErk1/2","titlePadding":35}},"y":{"field":"all","type":"quantitative","scale":{"domain":[0,1400],"nice":false},"axis":{"values":[0,200,400,600,800,1000,1200,1400],"tickCount":30,"labelOverlap":false,"title":null,"minExtent":58,"labelFontSize":7.5,"labelExpr":"replace(format(datum.value, '.2e'), 'e+', 'E+0')"}}}},
{"mark":{"type":"point","shape":"square","size":34,"filled":true,"opacity":1,"color":"#ed1c24"},"encoding":{"x":{"field":"erk","type":"quantitative","scale":{"domain":[0,3500],"nice":false}},"y":{"field":"m1","type":"quantitative","scale":{"domain":[0,1400],"nice":false}}}},
{"mark":{"type":"point","shape":"triangle-up","size":40,"filled":true,"opacity":1,"color":"#2e3192"},"encoding":{"x":{"field":"erk","type":"quantitative","scale":{"domain":[0,3500],"nice":false}},"y":{"field":"m2","type":"quantitative","scale":{"domain":[0,1400],"nice":false}}}},
{"data":{"values":[{}]},"mark":{"type":"text","text":"NGF 50ng/ml"},"encoding":{"x":{"datum":1837,"type":"quantitative","scale":{"domain":[0,3500],"nice":false}},"y":{"datum":968,"type":"quantitative","scale":{"domain":[0,1400],"nice":false}}}},
{"data":{"values":[{}]},"mark":{"type":"text","text":"M1=814, M2=1287"},"encoding":{"x":{"datum":1827,"type":"quantitative","scale":{"domain":[0,3500],"nice":false}},"y":{"datum":782,"type":"quantitative","scale":{"domain":[0,1400],"nice":false}}}},
{"data":{"values":[{}]},"mark":{"type":"text","text":"R²=0.998"},"encoding":{"x":{"datum":1929,"type":"quantitative","scale":{"domain":[0,3500],"nice":false}},"y":{"datum":132,"type":"quantitative","scale":{"domain":[0,1400],"nice":false}}}}
]}
]}
]
}
